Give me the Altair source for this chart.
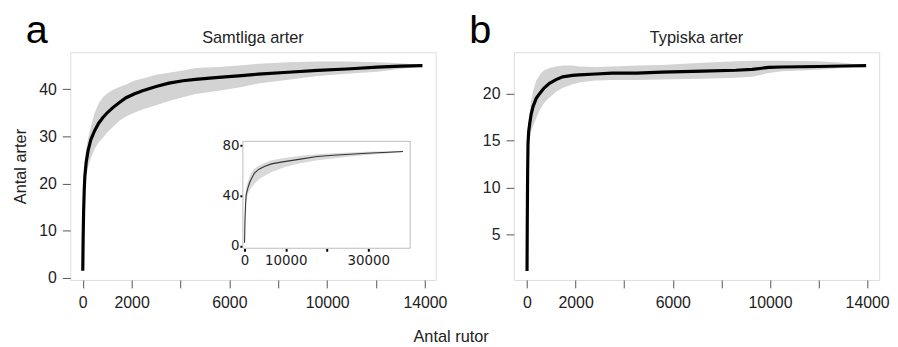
import altair as alt
import pandas as pd

# ---------------- data ----------------
# Panel a: Samtliga arter
a_x = [1, 15, 35, 60, 85, 140, 216, 330, 487, 650, 825, 1000, 1231, 1500, 1773, 2100,
       2448, 3000, 3531, 4100, 4614, 5560, 6500, 7183, 8400, 9618, 10800, 12054, 13000, 13900]
a_mean = [1.5, 8, 14, 18.5, 21.5, 24.5, 26.9, 29.3, 31.2, 32.8, 34.0, 35.0, 36.1, 37.2, 38.2, 39.0,
          39.7, 40.6, 41.3, 41.8, 42.1, 42.5, 42.9, 43.2, 43.6, 44.0, 44.3, 44.7, 44.9, 45.0]
a_hi = [1.5, 10, 17, 22, 25, 27.5, 29.5, 32, 35, 37, 38.3, 39.1, 39.9, 40.5, 41.0, 41.8,
        42.3, 43.1, 43.5, 44.0, 44.5, 44.7, 45.1, 45.4, 45.7, 45.9, 45.9, 45.7, 45.5, 45.1]
a_lo = [1.5, 6, 11, 15.5, 19, 21.5, 23.5, 25.3, 27.3, 28.7, 29.7, 30.8, 32.0, 33.3, 34.2, 35.0,
        35.7, 36.6, 37.5, 38.3, 39.0, 39.7, 40.5, 41.2, 42.0, 42.8, 43.3, 43.7, 44.3, 44.9]

# Panel b: Typiska arter
b_x = [1, 10, 25, 41, 70, 110, 170, 244, 380, 517, 700, 925, 1195, 1466, 1874, 2146, 2824,
       3503, 4521, 5540, 7237, 8594, 9273, 9952, 10500, 11988, 13000, 13960]
b_mean = [1.1, 6, 11.5, 14.7, 16.0, 16.8, 17.8, 18.6, 19.5, 20.0, 20.6, 21.1, 21.5, 21.8, 21.95,
          22.0, 22.1, 22.2, 22.2, 22.3, 22.4, 22.5, 22.6, 22.8, 22.85, 22.9, 22.95, 23.0]
b_hi = [1.1, 7, 13, 15.5, 17.0, 18.0, 19.3, 20.2, 21.4, 22.0, 22.5, 22.75, 22.9, 23.0, 23.0,
        22.9, 22.85, 22.9, 23.0, 23.05, 23.3, 23.45, 23.5, 23.5, 23.5, 23.45, 23.3, 23.0]
b_lo = [1.1, 5, 10, 13.5, 14.5, 15.3, 16.0, 16.5, 17.4, 18.2, 19.0, 19.6, 20.2, 20.6, 21.0,
        21.2, 21.4, 21.45, 21.45, 21.5, 21.6, 21.7, 21.8, 22.2, 22.4, 22.55, 22.75, 22.95]

# Inset (panel a)
i_x = [1, 100, 250, 400, 800, 1200, 1600, 2400, 3500, 4800, 6500, 9600, 13580, 17590,
       21500, 25580, 29500, 33600, 38400]
i_mean = [2.5, 20, 33, 40.8, 46, 50, 53, 57.9, 61, 63.1, 65.2, 67, 69, 71, 72, 72.9, 73.6, 74.2, 75]
i_hi = [2.5, 28, 40, 46, 51, 55, 57.9, 61.5, 64, 66, 68, 69.8, 71.6, 72.8, 73.6, 74.2, 74.8, 75.2, 75.4]
i_lo = [2.5, 14, 27, 36, 41, 44, 46, 49.5, 53, 55.5, 58.5, 62.5, 65.8, 68, 69.5, 71, 72.2, 73.2, 74.5]

x_ticks = [0, 2000, 4000, 6000, 8000, 10000, 12000, 14000]
a_yticks = [0, 10, 20, 30, 40]
b_yticks = [5, 10, 15, 20]
i_xticks = [0, 10000, 20000, 30000]
i_yticks = [0, 40, 80]

titles = ["Samtliga arter", "Typiska arter"]
letters = ["a", "b"]
y_title = "Antal arter"
x_title = "Antal rutor"

# domains (R-style 4% extension)
a_xdom = [-510, 14440]
a_ydom = [-0.46, 47.85]
b_xdom = [-542, 14497]
b_ydom = [0.14, 24.42]
i_xdom = [-408, 40150]
i_ydom = [-1.8, 83.1]

W, H = 369, 230
FONT = "Liberation Sans"

df_a = pd.DataFrame({"x": a_x, "m": a_mean, "lo": a_lo, "hi": a_hi})
df_b = pd.DataFrame({"x": b_x, "m": b_mean, "lo": b_lo, "hi": b_hi})
df_i = pd.DataFrame({"x": i_x, "m": i_mean, "lo": i_lo, "hi": i_hi})
df_frame = pd.DataFrame({"x0": [i_xdom[0]], "x1": [i_xdom[1]], "y0": [i_ydom[0]], "y1": [i_ydom[1]]})

hide_expr = "(datum.value == 4000 || datum.value == 8000 || datum.value == 12000) ? '' : datum.value"


def x_axis():
    return alt.Axis(values=x_ticks, labelExpr=hide_expr, title=None, grid=False, domain=False,
                    tickSize=8, tickColor="#555", tickWidth=1, labelPadding=7,
                    labelFont=FONT, labelFontSize=16, labelColor="#222", labelOverlap=False,
                    labelFlush=False)


def y_axis(vals, title):
    kw = dict(values=vals, grid=False, domain=False, tickSize=8, tickColor="#555", tickWidth=1,
              labelPadding=6, labelFont=FONT, labelFontSize=16, labelColor="#222",
              labelOverlap=False, labelFlush=False, format="d")
    if title:
        kw.update(title=title, titleFont=FONT, titleFontSize=16.5, titleFontWeight="normal",
                  titleColor="#222", titlePadding=10)
    else:
        kw.update(title=None)
    return alt.Axis(**kw)


def panel(df, xdom, ydom, yvals, ytitle, title, letter):
    xs = alt.Scale(domain=xdom, nice=False, zero=False)
    ys = alt.Scale(domain=ydom, nice=False, zero=False)
    band = alt.Chart(df).mark_area(color="#d3d3d3", opacity=1).encode(
        x=alt.X("x:Q", scale=xs, axis=x_axis()),
        y=alt.Y("lo:Q", scale=ys, axis=y_axis(yvals, ytitle)),
        y2="hi:Q",
    )
    line = alt.Chart(df).mark_line(color="black", strokeWidth=3.2).encode(
        x=alt.X("x:Q", scale=xs, axis=x_axis()),
        y=alt.Y("m:Q", scale=ys, axis=y_axis(yvals, ytitle)),
    )
    lab = alt.Chart(pd.DataFrame({"t": [letter]})).mark_text(
        font=FONT, fontSize=40, align="left", baseline="alphabetic", color="black"
    ).encode(text="t:N", x=alt.value(-45), y=alt.value(-9))
    ttl = alt.Chart(pd.DataFrame({"t": [title]})).mark_text(
        font=FONT, fontSize=16.5, align="center", baseline="alphabetic", color="#222"
    ).encode(text="t:N", x=alt.value(W / 2), y=alt.value(-9))
    return alt.layer(band, line), alt.layer(lab, ttl)


main_a, lab_a = panel(df_a, a_xdom, a_ydom, a_yticks, y_title, titles[0], letters[0])
main_b, lab_b = panel(df_b, b_xdom, b_ydom, b_yticks, None, titles[1], letters[1])

# ---------------- inset ----------------
ix = alt.Scale(domain=i_xdom, range=[174.3, 343.3], nice=False, zero=False)
iy = alt.Scale(domain=i_ydom, range=[198, 90], nice=False, zero=False)
ifont = "DejaVu Sans"
i_xaxis = alt.Axis(values=i_xticks, orient="bottom", offset=-(H - 198), title=None, grid=False,
                   domain=False, tickSize=3, tickWidth=2, tickColor="black", labelPadding=2,
                   labelFont=ifont, labelFontSize=13.5, labelColor="#222", labelOverlap=False,
                   labelFlush=False,
                   labelExpr="datum.value == 20000 ? '' : datum.value")
i_yaxis = alt.Axis(values=i_yticks, orient="left", offset=-174.3, title=None, grid=False,
                   domain=False, tickSize=3, tickWidth=2, tickColor="black", labelPadding=1,
                   labelFont=ifont, labelFontSize=13.5, labelColor="#222", labelOverlap=False,
                   labelFlush=False)

iframe = alt.Chart(df_frame).mark_rect(fill="white", stroke="#bdbdbd", strokeWidth=1).encode(
    x=alt.X("x0:Q", scale=ix, axis=i_xaxis), x2="x1:Q",
    y=alt.Y("y0:Q", scale=iy, axis=i_yaxis), y2="y1:Q",
)
iband = alt.Chart(df_i).mark_area(color="#d9d9d9", opacity=1).encode(
    x=alt.X("x:Q", scale=ix, axis=i_xaxis),
    y=alt.Y("lo:Q", scale=iy, axis=i_yaxis), y2="hi:Q",
)
iline = alt.Chart(df_i).mark_line(color="#333", strokeWidth=1.1).encode(
    x=alt.X("x:Q", scale=ix, axis=i_xaxis),
    y=alt.Y("m:Q", scale=iy, axis=i_yaxis),
)
inset = alt.layer(iframe, iband, iline)

chart_a = alt.layer(main_a, inset, lab_a).resolve_scale(x="independent", y="independent").properties(
    width=W, height=H)
chart_b = alt.layer(main_b, lab_b).properties(width=W, height=H)

chart = alt.hconcat(chart_a, chart_b, spacing=79, bounds="flush").properties(
    title=alt.Title(x_title, orient="bottom", anchor="middle", font=FONT, fontSize=16.5,
                    fontWeight="normal", color="#222", offset=18),
    padding={"left": 12, "top": 9, "right": 8, "bottom": 4},
).configure_view(stroke="#808080", strokeWidth=1.2).configure(background="white")

chart.save("out.html", embed_options={"renderer": "svg", "actions": False})
